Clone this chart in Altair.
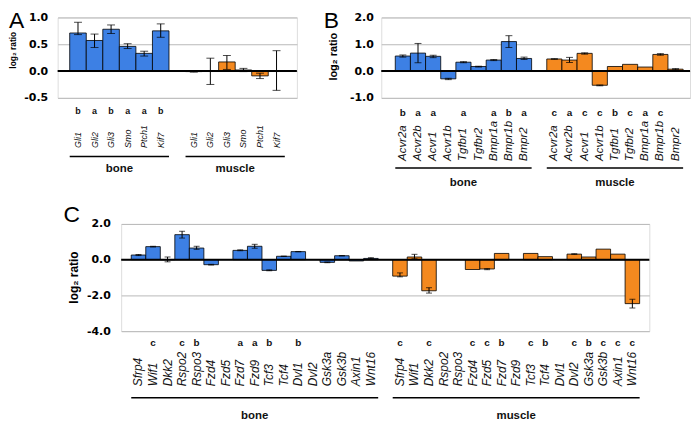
import altair as alt
import pandas as pd

BLUE = '#3d80e4'
ORANGE = '#f4891f'
FONT = 'Liberation Sans'
NUMFONT = 'DejaVu Sans'

# ---------------- Panel A (Hedgehog) ----------------
a_genes = ['Gli1', 'Gli2', 'Gli3', 'Smo', 'Ptch1', 'Kif7']
a_bone = [0.71, 0.57, 0.78, 0.46, 0.33, 0.75]
a_bone_lo = [0.68, 0.44, 0.70, 0.42, 0.28, 0.63]
a_bone_hi = [0.91, 0.69, 0.86, 0.51, 0.37, 0.88]
a_bone_let = ['b', 'a', 'b', 'a', 'a', 'b']
a_mus = [-0.01, 0.0, 0.17, 0.02, -0.09, 0.01]
a_mus_lo = [-0.02, -0.25, 0.03, -0.01, -0.14, -0.36]
a_mus_hi = [0.0, 0.24, 0.29, 0.05, -0.04, 0.38]
a_mus_let = ['', '', '', '', '', '']

# ---------------- Panel B (TGF-beta / BMP receptors) ----------------
b_genes = ['Acvr2a', 'Acvr2b', 'Acvr1', 'Acvr1b', 'Tgfbr1', 'Tgfbr2', 'Bmpr1a', 'Bmpr1b', 'Bmpr2']
b_bone = [0.56, 0.67, 0.55, -0.29, 0.33, 0.17, 0.41, 1.10, 0.47]
b_bone_lo = [0.52, 0.31, 0.50, -0.32, 0.31, 0.15, 0.39, 0.88, 0.43]
b_bone_hi = [0.60, 1.03, 0.59, -0.27, 0.35, 0.18, 0.43, 1.32, 0.52]
b_bone_let = ['b', 'a', 'a', '', 'a', '', 'a', 'b', 'a']
b_mus = [0.45, 0.41, 0.66, -0.53, 0.17, 0.25, 0.15, 0.62, 0.07]
b_mus_lo = [0.44, 0.32, 0.63, -0.55, None, None, None, 0.59, 0.05]
b_mus_hi = [0.46, 0.51, 0.68, -0.52, None, None, None, 0.65, 0.09]
b_mus_let = ['c', 'a', 'c', 'c', 'b', 'c', 'a', 'c', '']

# ---------------- Panel C (Wnt pathway) ----------------
c_genes = ['Sfrp4', 'Wif1', 'Dkk2', 'Rspo2', 'Rspo3', 'Fzd4', 'Fzd5', 'Fzd7', 'Fzd9',
           'Tcf3', 'Tcf4', 'Dvl1', 'Dvl2', 'Gsk3a', 'Gsk3b', 'Axin1', 'Wnt16']
c_bone = [0.26, 0.73, 0.0, 1.40, 0.65, -0.28, None, 0.52, 0.75,
          -0.60, 0.19, 0.45, None, -0.15, 0.22, -0.07, 0.07]
c_bone_lo = [0.23, 0.71, -0.12, 1.21, 0.58, -0.30, None, 0.50, 0.64,
             -0.62, 0.18, 0.44, None, -0.17, 0.21, None, 0.04]
c_bone_hi = [0.29, 0.75, 0.15, 1.59, 0.75, -0.26, None, 0.55, 0.86,
             -0.57, 0.20, 0.46, None, -0.13, 0.23, None, 0.11]
c_bone_let = ['', 'c', '', 'c', 'b', '', '', 'a', 'a', 'b', '', 'b', '', '', '', '', '']
c_mus = [-0.92, 0.15, -1.74, None, None, -0.55, -0.52, 0.35, None,
         0.35, 0.17, None, 0.31, 0.15, 0.59, 0.31, -2.46]
c_mus_lo = [-0.96, 0.05, -1.87, None, None, None, -0.56, None, None,
            None, None, None, 0.30, None, None, None, -2.70]
c_mus_hi = [-0.74, 0.30, -1.57, None, None, None, -0.50, None, None,
            None, None, None, 0.33, None, None, None, -2.22]
c_mus_let = ['c', '', 'c', '', '', 'c', 'c', 'b', '', 'c', 'b', '', 'c', 'b', 'c', 'c', 'c']


def panel(genes, bv, blo, bhi, blet, mv, mlo, mhi, mlet, *, width, height, ydomain, yvals,
          po, al, letter, letter_dx, letter_dy, title_x, title_y, title_size, ypad,
          gene_size, gene_pad, let_size, let_dy, line_dy, grp_dy, cap):
    kb = ['bone:' + g for g in genes]
    km = ['muscle:' + g for g in genes]
    domain = kb + ['gap'] + km
    n = len(genes)

    bars = pd.DataFrame({'key': kb + km, 'group': ['bone'] * n + ['muscle'] * n,
                         'value': list(bv) + list(mv)})
    err = pd.DataFrame({'key': kb + km, 'lo': list(blo) + list(mlo), 'hi': list(bhi) + list(mhi)})
    err = err.dropna()
    lets = pd.DataFrame({'key': kb + km, 'letter': list(blet) + list(mlet)})
    lets = lets[lets['letter'] != '']
    mid = n // 2
    bp = 0.5 if n % 2 else 0.0
    groups = pd.DataFrame({'group': ['bone', 'muscle'], 'k1': [kb[0], km[0]],
                           'k2': [kb[-1], km[-1]], 'mid': [kb[mid], km[mid]]})
    one = pd.DataFrame({'t': [letter]})

    xscale = alt.Scale(domain=domain, paddingInner=0, paddingOuter=po, align=al)
    xaxis = alt.Axis(
        labelExpr="indexof(datum.value, ':') >= 0 ? split(datum.value, ':')[1] : ''",
        labelAngle=270, labelAlign='left', labelBaseline='middle', labelPadding=gene_pad,
        labelFont=FONT, labelFontStyle='italic', labelFontSize=gene_size, labelColor='#111111',
        ticks=False, domain=False, grid=False, labelOverlap=False)
    yscale = alt.Scale(domain=ydomain, nice=False, zero=False)
    yaxis = alt.Axis(
        values=yvals,
        labelExpr="(datum.value < 0 ? '-' : '') + format(abs(datum.value), '.1f')",
        labelFont=NUMFONT, labelFontWeight='bold', labelFontSize=11, labelColor='black',
        labelPadding=ypad, ticks=False, domain=False, grid=True, gridColor='#b8b8b8',
        gridWidth=1, titleFont=FONT, titleFontWeight='bold', titleFontSize=title_size,
        titleColor='black', titleX=title_x, titleY=title_y)
    ytitle = 'log₂ ratio'

    def X(field, **kw):
        return alt.X(field, type='nominal', scale=xscale, axis=xaxis, title=None, **kw)

    def Y(field):
        return alt.Y(field, type='quantitative', scale=yscale, axis=yaxis, title=ytitle)

    bar_layer = alt.Chart(bars).mark_bar(stroke='black', strokeWidth=0.8).encode(
        x=X('key'), y=Y('value'),
        color=alt.Color('group:N', scale=alt.Scale(domain=['bone', 'muscle'], range=[BLUE, ORANGE]),
                        legend=None))
    zero = alt.Chart(one).mark_rule(color='black', strokeWidth=2).encode(
        y=alt.Y(datum=0, scale=yscale, axis=yaxis, title=ytitle))
    err_rule = alt.Chart(err).mark_rule(color='black', strokeWidth=1).encode(
        x=X('key'), y=Y('lo'), y2='hi')
    err_cap = alt.Chart(err).transform_fold(['lo', 'hi'], as_=['which', 'v']).mark_tick(
        color='black', thickness=1, size=cap).encode(x=X('key'), y=Y('v'))
    let_layer = alt.Chart(lets).mark_text(font=FONT, fontWeight='bold', fontSize=let_size,
                                         baseline='alphabetic', color='#111111').encode(
        x=X('key'), y=alt.value(height + let_dy), text='letter:N')
    lines = alt.Chart(groups).mark_rule(color='black', strokeWidth=1.5).encode(
        x=X('k1', bandPosition=0), x2=alt.X2('k2', bandPosition=1), y=alt.value(height + line_dy))
    grp = alt.Chart(groups).mark_text(font=FONT, fontWeight='bold', fontSize=11.5,
                                      baseline='alphabetic', color='#111111').encode(
        x=X('mid', bandPosition=bp), y=alt.value(height + grp_dy), text='group:N')
    lab = alt.Chart(one).mark_text(font=FONT, fontSize=23, align='left', baseline='alphabetic',
                                   color='black').encode(
        x=alt.value(letter_dx), y=alt.value(letter_dy), text='t:N')
    layers = [bar_layer, zero, err_rule, err_cap, let_layer, lines, grp, lab]
    return alt.layer(*layers).properties(width=width, height=height)


A = panel(a_genes, a_bone, a_bone_lo, a_bone_hi, a_bone_let, a_mus, a_mus_lo, a_mus_hi, a_mus_let,
          width=241, height=81, ydomain=[-0.5, 1.0], yvals=[-0.5, 0.0, 0.5, 1.0],
          po=0.73, al=0.5, letter='A', letter_dx=-49, letter_dy=11,
          title_x=-40, title_y=32.5, title_size=8.5, ypad=10,
          gene_size=9, gene_pad=50, let_size=9, let_dy=16.5, line_dy=59, grp_dy=74.7, cap=8)

B = panel(b_genes, b_bone, b_bone_lo, b_bone_hi, b_bone_let, b_mus, b_mus_lo, b_mus_hi, b_mus_let,
          width=311, height=81, ydomain=[-1.0, 2.0], yvals=[-1.0, 0.0, 1.0, 2.0],
          po=0.69, al=0.67, letter='B', letter_dx=-58, letter_dy=11,
          title_x=-43, title_y=39, title_size=11, ypad=8,
          gene_size=11.5, gene_pad=63, let_size=10, let_dy=18.5, line_dy=70.7, grp_dy=89, cap=7)

C = panel(c_genes, c_bone, c_bone_lo, c_bone_hi, c_bone_let, c_mus, c_mus_lo, c_mus_hi, c_mus_let,
          width=532, height=108, ydomain=[-4.0, 2.0], yvals=[-4.0, -2.0, 0.0, 2.0],
          po=0.68, al=0.51, letter='C', letter_dx=-58, letter_dy=-2,
          title_x=-41, title_y=53.5, title_size=12, ypad=11,
          gene_size=12, gene_pad=55, let_size=10, let_dy=14.7, line_dy=67, grp_dy=88, cap=6)

# empty placeholder that shifts panel C to the right of panel A's plot edge
spacer = alt.Chart(pd.DataFrame({'s': [0]})).mark_point(opacity=0).encode(
    x=alt.value(0), y=alt.value(0)).properties(width=64, height=108,
                                              view=alt.ViewBackground(strokeOpacity=0))

row1 = alt.hconcat(A, B, spacing=85, bounds='flush')
row2 = alt.hconcat(spacer, C, spacing=0, bounds='flush')
chart = alt.vconcat(row1, row2, spacing=14).properties(padding=0).configure_view(
    stroke='#a8a8a8', strokeWidth=1).configure(font=FONT)

chart.save("out.html", embed_options={"renderer": "svg", "actions": False})
